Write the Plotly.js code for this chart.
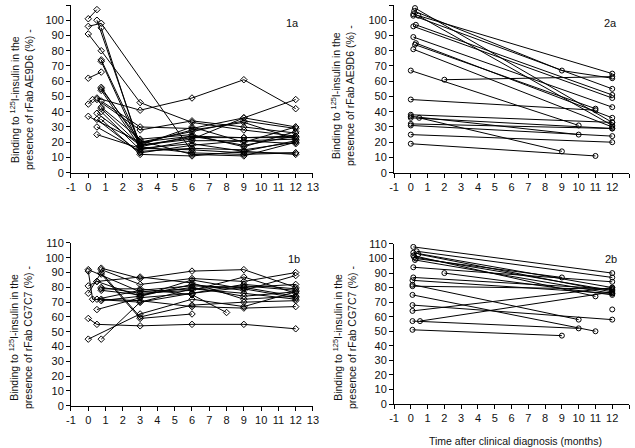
<!DOCTYPE html>
<html><head><meta charset="utf-8">
<script src="https://cdn.plot.ly/plotly-3.0.1.min.js"></script>
<style>html,body{margin:0;padding:0;background:#fff}#c{width:635px;height:448px}</style>
</head><body><div id="c"></div>
<script>
// Panel 1a: rFab AE9D6, group 1 (time in months, binding %)
const p1aX = [
  [0,0.5],[0,0.75,6],[0.5,3,6,9,12],[0.75,3,6,9,12],[0,0.75,3,6,9,12],[0,0.75],
  [0.75,3,6,9,12],[0.75,3,6,9,12],[0.75,3,6,9,12],[0.75,3,6,9,12],[0.75,3,6,9,12],
  [0,0.25],[0.5,3,6,9,12],[0.75,3,6,9,12],[0.5,3,6,9,12],[0.75,3,6,9,12],[0,3,6,9,12],
  [0.5,3,6,9,12],[0.75,3,6,9,12],[0.5,3,6,9,12],[0.5,3,6,9,12],[0.5,3,6,9,12],
  [0.75,3,6,9,12],[0.75,3,6,9,12]
];
const p1aY = [
  [101,107],[96,98,14],[100,18,22,36,30],[95,16,15,13,13],[91,80,46,33,28,24],[62,66],
  [74,20,27,34,29],[73,17,24,18,24],[56,19,28,33,22],[55,21,12,11,20],[54,17,13,12,13],
  [45,48],[49,41,49,61,42],[47,30,29,36,48],[48,28,34,30,26],[43,22,25,17,27],[37,20,24,23,23],
  [39,18,30,20,30],[40,15,21,21,22],[35,13,18,21,19],[30,14,16,15,20],[25,16,19,14,21],
  [35,12,11,14,12],[42,18,23,23,24]
];
// Panel 2a: rFab AE9D6, group 2
const p2aX = [
  [0.25,12],[0.2,9,12],[0.15,12],[0.45,12],[0.15,12],[0.3,12],[0.15,12],[0.15,12],
  [0.3,12],[0.25,11],[0.15,12],[0,10],[2,12],[0,11],[0,12],[0,10],[0.5,9],[0,12],
  [0,12],[0,12],[0,12],[0,11]
];
const p2aY = [
  [108,33],[106,67,62],[104,65],[103,31],[103,55],[97,51],[96,49],[89,43],
  [85,36],[84,42],[81,30],[67,31],[61,63],[48,41],[38,33],[37,25],[36,14],[36,29],
  [32,29],[31,24],[25,20],[19,11]
];
// Panel 1b: rFab CG7C7, group 1
const p1bX = [
  [0,3,6,9,12],[0,0.25,3,6,9,12],[0,0.5,3,6,9,12],[0,0.75,3,6,9,12],[0,0.5,3,6,9,12],
  [0,3,6,9,12],[0.75,3,6,9,12],[0.75,3,6,9,12],[0.75,3,6,9,12],[0.5,3,6,9,12],
  [0.75,3,6,9,12],[0.75,3,6,9,12],[0.5,3,6,9,12],[0.75,3,6,9,12],[0.75,3,6],
  [0.75,3,6,8],[0.5,3,6,9,12],[0.75,3,6,9,12]
];
const p1bY = [
  [92,77,79,81,78],[91,72,70,76,80,74],[81,84,74,85,79,73],[76,90,60,68,70,71],[59,55,54,55,55,52],
  [45,62,72,67,77],[45,70,79,76,72],[93,86,91,92,80],[92,82,86,84,90],[72,78,81,80,82],
  [80,76,78,87,76],[78,75,80,74,77],[65,73,76,82,79],[72,71,67,66,67],[89,59,62],
  [79,79,75,63],[84,87,83,72,74],[71,74,82,78,88]
];
// Panel 2b: rFab CG7C7, group 2
const p2bX = [
  [0.15,12],[0.35,12],[0.15,12],[0.45,12],[0.15,11],[0.2,12],[0.3,9],[0.25,12],
  [0.15,12],[2,12],[0.15,12],[0.1,12],[0.1,10],[0.1,12],[0.1,11],[0.1,12],[0.1,12],
  [0.1,10],[0.55,12],[0.1,9],[12]
];
const p2bY = [
  [108,90],[105,87],[104,80],[103,77],[102,74],[101,78],[100,87],[99,76],
  [94,84],[90,75],[87,79],[85,76],[82,58],[81,79],[75,50],[68,58],[64,80],
  [57,52],[57,77],[51,47],[65]
];
const xTicks = [-1,0,1,2,3,4,5,6,7,8,9,10,11,12,13];
const yTicks = [0,10,20,30,40,50,60,70,80,90,100,110];
const panelLabels = ['1a','2a','1b','2b'];
const yTitles = [
  'Binding to <sup>125</sup>I-insulin in the<br>presence of rFab AE9D6 (%) -',
  'Binding to <sup>125</sup>I-insulin in the<br>presence of rFab AE9D6 (%) -',
  'Binding to <sup>125</sup>I-insulin in the<br>presence of rFab CG7C7 (%) -',
  'Binding to <sup>125</sup>I-insulin in the<br>presence of rFab CG7C7 (%) -'
];
const xTitle = 'Time after clinical diagnosis (months)';

const FONT = 'Liberation Sans, Arial, sans-serif';
const traces = [];
function addPanel(X, Y, xa, ya, sym, size) {
  for (let i = 0; i < X.length; i++) {
    traces.push({
      x: X[i], y: Y[i], xaxis: xa, yaxis: ya, type: 'scatter',
      mode: X[i].length > 1 ? 'lines+markers' : 'markers',
      line: {color: '#000', width: 1},
      marker: {symbol: sym, size: size, color: '#000', line: {color: '#000', width: 1}},
      showlegend: false, hoverinfo: 'skip'
    });
  }
}
addPanel(p1aX, p1aY, 'x', 'y', 'diamond-open', 5);
addPanel(p2aX, p2aY, 'x2', 'y2', 'circle-open', 5);
addPanel(p1bX, p1bY, 'x3', 'y3', 'diamond-open', 5);
addPanel(p2bX, p2bY, 'x4', 'y4', 'circle-open', 5);

function xax(dom, anchor) {
  return {domain: dom, anchor: anchor, range: [-1, 13], tickvals: xTicks, ticktext: xTicks.map(String),
    showline: true, linecolor: '#000', linewidth: 1, ticks: 'outside', ticklen: 4, tickcolor: '#000',
    showgrid: false, zeroline: false, tickfont: {family: FONT, size: 11, color: '#111'}, fixedrange: true};
}
function yax(dom, anchor) {
  return {domain: dom, anchor: anchor, range: [0, 110], tickvals: yTicks,
    showline: true, linecolor: '#000', linewidth: 1, ticks: 'outside', ticklen: 4, tickcolor: '#000',
    showgrid: false, zeroline: false, tickfont: {family: FONT, size: 11, color: '#111'}, fixedrange: true};
}
const dxL = [0.1118, 0.4929], dxR = [0.6205, 0.9906];
const dyT = [0.6145, 0.9888], dyB1 = [0.0944, 0.4576], dyB2 = [0.0982, 0.4554];

const ann = [];
const refs = [['x','y'],['x2','y2'],['x3','y3'],['x4','y4']];
const labPos = [[11.8, 98], [11.9, 98], [11.9, 99], [11.9, 100]];
for (let i = 0; i < 4; i++) {
  ann.push({xref: refs[i][0], yref: refs[i][1], x: labPos[i][0], y: labPos[i][1], text: panelLabels[i],
    xanchor: 'center', yanchor: 'middle',
    showarrow: false, font: {family: FONT, size: 11, color: '#111'}});
}
const titlePos = [[21/635, 1-100/448], [343/635, 1-95/448], [20/635, 1-338/448], [344/635, 1-338/448]];
for (let i = 0; i < 4; i++) {
  ann.push({xref: 'paper', yref: 'paper', x: titlePos[i][0], y: titlePos[i][1], text: yTitles[i],
    xanchor: 'center', yanchor: 'middle',
    textangle: -90, showarrow: false, align: 'center',
    font: {family: FONT, size: 10.5, color: '#111'}});
}
ann.push({xref: 'paper', yref: 'paper', x: 515/635, y: 1-441/448, text: xTitle, showarrow: false,
  xanchor: 'center', yanchor: 'middle',
  font: {family: FONT, size: 10.5, color: '#111'}});

const layout = {
  width: 635, height: 448, margin: {l: 0, r: 0, t: 0, b: 0},
  paper_bgcolor: '#fff', plot_bgcolor: '#fff', showlegend: false,
  xaxis: xax(dxL, 'y'), yaxis: yax(dyT, 'x'),
  xaxis2: xax(dxR, 'y2'), yaxis2: yax(dyT, 'x2'),
  xaxis3: xax(dxL, 'y3'), yaxis3: yax(dyB1, 'x3'),
  xaxis4: xax(dxR, 'y4'), yaxis4: yax(dyB2, 'x4'),
  annotations: ann
};
Plotly.newPlot('c', traces, layout, {staticPlot: true, displayModeBar: false});
</script></body></html>
